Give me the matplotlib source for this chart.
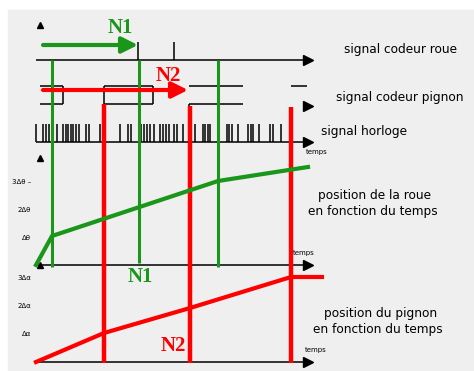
import matplotlib.pyplot as plt
from matplotlib.patches import Rectangle

# everything is laid out in the picture's own pixel frame (x right, y down)
GREEN = '#1a961a'
RED = '#ff0000'
BG = '#efefef'

# time axis
t_start = 36
t_end = 308

# signal codeur roue
roue_base = 60
roue_top = 42
roue_ticks = [138, 174]

# signal codeur pignon (two-rail drawing)
pig_hi = 86
pig_lo = 104
pig_top_segs = [(40, 63), (104, 153), (189, 243), (291, 307)]
pig_low_segs = [(40, 63), (104, 153), (189, 243)]
pig_edges = [63, 104, 153]

# signal horloge
clk_base = 142
clk_top = 124
clk_ticks = [36, 43, 46, 49, 57, 63, 66, 68, 71, 73, 76, 79, 86, 89, 100,
             120, 128, 131, 141, 144, 147, 150, 154, 160, 163, 166, 169,
             174, 177, 183, 195, 203, 205, 208, 210, 227, 229, 232, 238,
             248, 251, 253, 259, 270, 273, 281]

# markers of the wheel (green) and pinion (red)
green_x = [52, 139, 218]
green_bottom = [267, 263, 267]
red_x = [104, 190, 291]
red_top = [104, 106, 107]
red_bottom = 363

# position de la roue
roue_axis = 265
roue_t = [36, 52, 218, 308]
roue_pos = [265, 236, 181, 167]
roue_yticks = [182, 210, 238]
roue_ylabels = ['3Δθ –', '2Δθ', 'Δθ']

# position du pignon
pig_axis = 362
pig_t = [36, 104, 190, 291, 322]
pig_pos = [362, 333, 308, 277, 277]
pig_yticks = [278, 306, 334]
pig_ylabels = ['3Δα', '2Δα', 'Δα']

labels = [
    (401, 50, 'signal codeur roue'),
    (400, 97, 'signal codeur pignon'),
    (364, 132, 'signal horloge'),
    (375, 196, 'position de la roue'),
    (373, 212, 'en fonction du temps'),
    (381, 313, 'position du pignon'),
    (378, 330, 'en fonction du temps'),
]

fig = plt.figure(figsize=(4.74, 3.71), dpi=100)
ax = fig.add_axes([0, 0, 1, 1])
ax.set_xlim(0, 474)
ax.set_ylim(371, 0)
ax.axis('off')
ax.add_patch(Rectangle((8, 10), 470, 365, color=BG, zorder=0))

lw = 1.1
# roue signal
ax.hlines(roue_base, t_start, t_end, color='black', lw=lw)
ax.vlines(roue_ticks, roue_top, roue_base, color='black', lw=lw)
# pignon signal
for x0, x1 in pig_top_segs:
    ax.hlines(pig_hi, x0, x1, color='black', lw=lw)
for x0, x1 in pig_low_segs:
    ax.hlines(pig_lo, x0, x1, color='black', lw=lw)
ax.vlines(pig_edges, pig_hi, pig_lo, color='black', lw=lw)
ax.vlines(189, pig_lo, pig_lo + 4, color='black', lw=lw)
# horloge
ax.hlines(clk_base, t_start, t_end, color='black', lw=lw)
ax.vlines(clk_ticks, clk_top, clk_base, color='black', lw=lw)
# position axes
ax.hlines(roue_axis, t_start, t_end, color='black', lw=lw)
ax.hlines(pig_axis, t_start, t_end - 1, color='black', lw=lw)

# arrow heads of the axes
for y in [roue_base, pig_lo + 2, clk_base, roue_axis, pig_axis]:
    ax.plot(t_end, y, marker='>', ms=7, color='black', mec='black')
for y in [25, 158, 265]:
    ax.plot(40, y, marker='^', ms=5, color='black')

# vertical marks
ax.vlines(green_x, roue_base, green_bottom, color=GREEN, lw=2.2, zorder=3)
ax.vlines(red_x, red_top, red_bottom, color=RED, lw=3.2, zorder=3)

# position curves
ax.plot(roue_t, roue_pos, color=GREEN, lw=3, zorder=4)
ax.plot(pig_t, pig_pos, color=RED, lw=3, zorder=4)

# N1 / N2 arrows
ax.annotate('', xy=(138, 45), xytext=(43, 45),
            arrowprops=dict(arrowstyle='-|>', color=GREEN, lw=3,
                            mutation_scale=24, shrinkA=0, shrinkB=0), zorder=5)
ax.annotate('', xy=(188, 90), xytext=(43, 90),
            arrowprops=dict(arrowstyle='-|>', color=RED, lw=3,
                            mutation_scale=24, shrinkA=0, shrinkB=0), zorder=5)

nfont = dict(family='Liberation Serif', fontsize=15, weight='bold',
             ha='center', va='center')
ax.text(120, 28, 'N1', color=GREEN, **nfont)
ax.text(168, 76, 'N2', color=RED, **nfont)
ax.text(140, 277, 'N1', color=GREEN, **nfont)
ax.text(173, 346, 'N2', color=RED, **nfont)

# y labels
for y, s in zip(roue_yticks, roue_ylabels):
    ax.text(31, y, s, fontsize=5, ha='right', va='center')
for y, s in zip(pig_yticks, pig_ylabels):
    ax.text(31, y, s, fontsize=5, ha='right', va='center')

# small "temps" labels
for x, y in [(317, 152), (304, 253), (316, 350)]:
    ax.text(x, y, 'temps', fontsize=5, ha='center', va='center')

for x, y, s in labels:
    ax.text(x, y, s, fontsize=8.7, ha='center', va='center')

fig.savefig('out.png', dpi=100)
